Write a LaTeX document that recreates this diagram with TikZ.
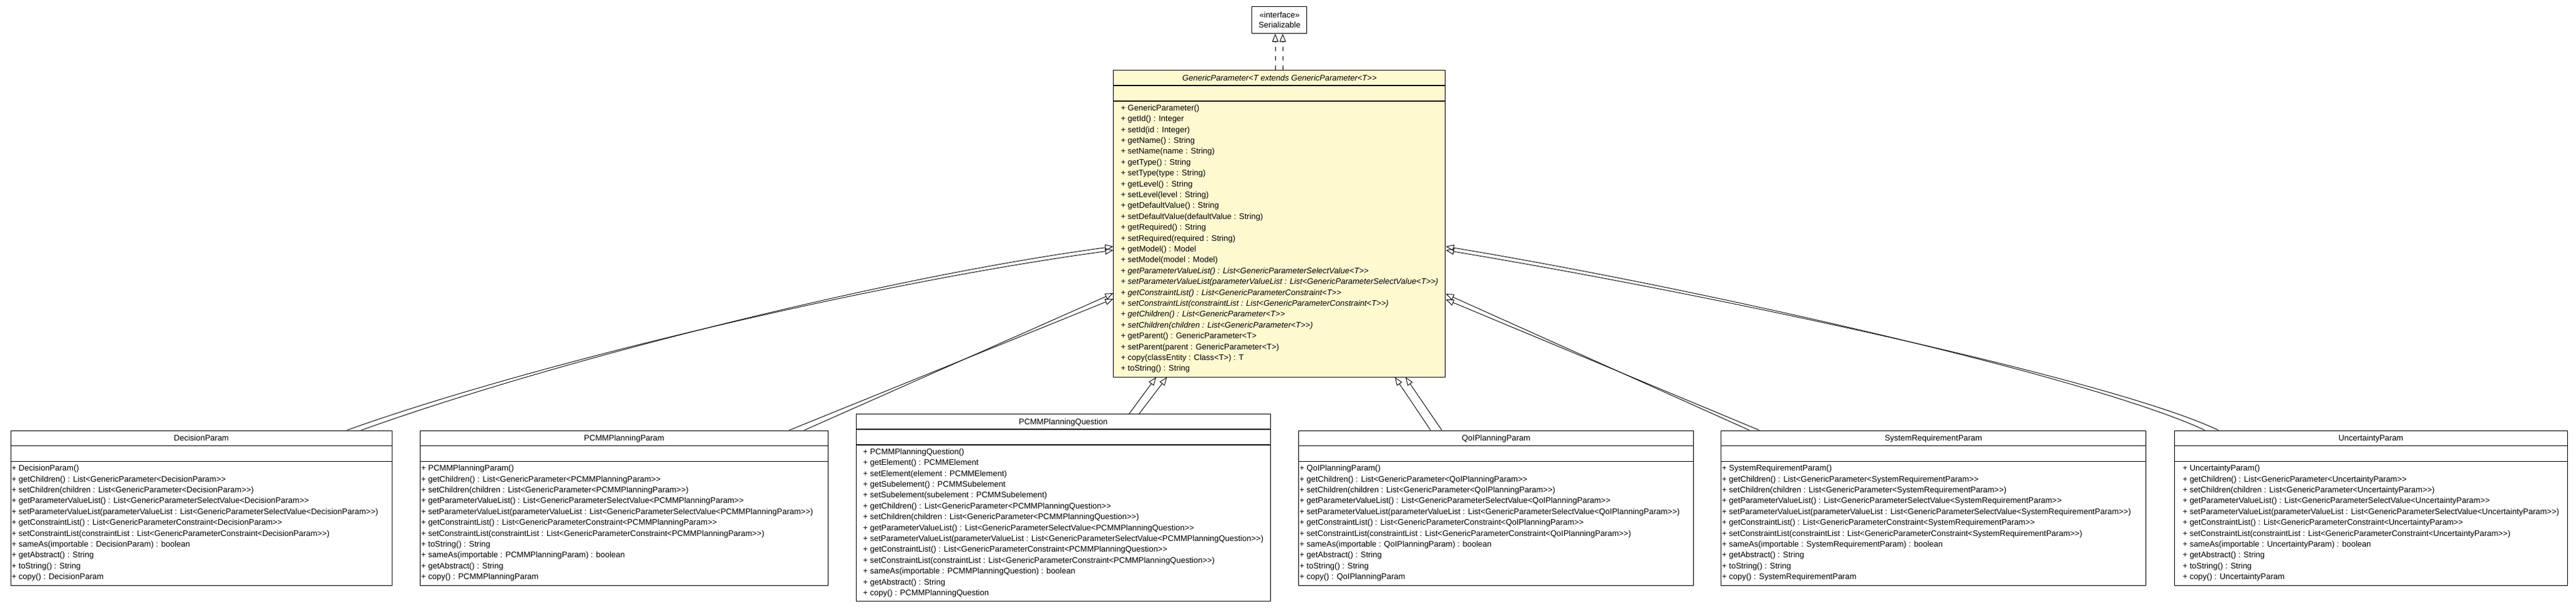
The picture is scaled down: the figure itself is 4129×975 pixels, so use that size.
\documentclass[tikz,border=0pt]{standalone}
\usepackage{fontspec}
\newfontfamily\umlfont{Liberation Sans}
\usetikzlibrary{arrows.meta}
\setlength{\parindent}{0pt}
\definecolor{umlyellow}{RGB}{255,249,208}

\begin{document}
\begin{tikzpicture}[x=1pt, y=-1pt,
	classbox/.style={draw=black, line width=1pt, fill=white, inner sep=0pt, anchor=north west},
	abstractbox/.style={classbox, fill=umlyellow},
	classname/.style={font=\umlfont\fontsize{13pt}{17.4pt}\selectfont, inner sep=0pt, anchor=base},
	classops/.style={font=\umlfont\fontsize{13pt}{17.4pt}\selectfont, align=left, inner sep=0pt},
	compart/.style={line width=1.8pt},
	gen/.style={-{Triangle[open, length=13pt, width=10pt]}, line width=0.9pt},
	realize/.style={gen, dash pattern=on 7pt off 8pt}]
	\path[use as bounding box, fill=white] (0,0) rectangle (4129,975);

	\node[classbox, minimum width=88pt, minimum height=43pt, align=center, font=\umlfont\fontsize{13pt}{16.6pt}\selectfont] (ser) at (2006.4,10) {«interface»\\Serializable};

	% abstract parent
	\node[abstractbox, minimum width=532pt, minimum height=491.6pt] (gp) at (1784.4,112) {};
	\node[classname] (gp-name) at ([yshift=-17pt]gp.north) {\itshape GenericParameter<T extends GenericParameter<T>>};
	\node[classops, anchor=north] (gp-ops) at ([yshift=-50pt]gp.north) {\rule{0pt}{15pt}+ GenericParameter()\\
		+ getId() : Integer\\
		+ setId(id : Integer)\\
		+ getName() : String\\
		+ setName(name : String)\\
		+ getType() : String\\
		+ setType(type : String)\\
		+ getLevel() : String\\
		+ setLevel(level : String)\\
		+ getDefaultValue() : String\\
		+ setDefaultValue(defaultValue : String)\\
		+ getRequired() : String\\
		+ setRequired(required : String)\\
		+ getModel() : Model\\
		+ setModel(model : Model)\\
		+ \textit{getParameterValueList() : List<GenericParameterSelectValue<T>>}\\
		+ \textit{setParameterValueList(parameterValueList : List<GenericParameterSelectValue<T>>)}\\
		+ \textit{getConstraintList() : List<GenericParameterConstraint<T>>}\\
		+ \textit{setConstraintList(constraintList : List<GenericParameterConstraint<T>>)}\\
		+ \textit{getChildren() : List<GenericParameter<T>>}\\
		+ \textit{setChildren(children : List<GenericParameter<T>>)}\\
		+ getParent() : GenericParameter<T>\\
		+ setParent(parent : GenericParameter<T>)\\
		+ copy(classEntity : Class<T>) : T\\
		+ toString() : String\rule[-9pt]{0pt}{9pt}};

	% subclasses
	\node[classbox, minimum width=611.5pt, minimum height=248pt] (decision) at (16.5,689.5) {};
	\node[classname] (decision-name) at ([yshift=-17pt]decision.north) {DecisionParam};
	\node[classops, anchor=north west] (decision-ops) at ([shift={(2pt,-50pt)}]decision.north west) {\rule{0pt}{15pt}+ DecisionParam()\\
		+ getChildren() : List<GenericParameter<DecisionParam>>\\
		+ setChildren(children : List<GenericParameter<DecisionParam>>)\\
		+ getParameterValueList() : List<GenericParameterSelectValue<DecisionParam>>\\
		+ setParameterValueList(parameterValueList : List<GenericParameterSelectValue<DecisionParam>>)\\
		+ getConstraintList() : List<GenericParameterConstraint<DecisionParam>>\\
		+ setConstraintList(constraintList : List<GenericParameterConstraint<DecisionParam>>)\\
		+ sameAs(importable : DecisionParam) : boolean\\
		+ getAbstract() : String\\
		+ toString() : String\\
		+ copy() : DecisionParam};

	\node[classbox, minimum width=654pt, minimum height=248pt] (planparam) at (673,689.5) {};
	\node[classname] (planparam-name) at ([yshift=-17pt]planparam.north) {PCMMPlanningParam};
	\node[classops, anchor=north west] (planparam-ops) at ([shift={(2pt,-50pt)}]planparam.north west) {\rule{0pt}{15pt}+ PCMMPlanningParam()\\
		+ getChildren() : List<GenericParameter<PCMMPlanningParam>>\\
		+ setChildren(children : List<GenericParameter<PCMMPlanningParam>>)\\
		+ getParameterValueList() : List<GenericParameterSelectValue<PCMMPlanningParam>>\\
		+ setParameterValueList(parameterValueList : List<GenericParameterSelectValue<PCMMPlanningParam>>)\\
		+ getConstraintList() : List<GenericParameterConstraint<PCMMPlanningParam>>\\
		+ setConstraintList(constraintList : List<GenericParameterConstraint<PCMMPlanningParam>>)\\
		+ toString() : String\\
		+ sameAs(importable : PCMMPlanningParam) : boolean\\
		+ getAbstract() : String\\
		+ copy() : PCMMPlanningParam};

	\node[classbox, minimum width=664.5pt, minimum height=300.2pt] (planquestion) at (1371.5,663) {};
	\node[classname] (planquestion-name) at ([yshift=-17pt]planquestion.north) {PCMMPlanningQuestion};
	\node[classops, anchor=north] (planquestion-ops) at ([yshift=-50pt]planquestion.north) {\rule{0pt}{15pt}+ PCMMPlanningQuestion()\\
		+ getElement() : PCMMElement\\
		+ setElement(element : PCMMElement)\\
		+ getSubelement() : PCMMSubelement\\
		+ setSubelement(subelement : PCMMSubelement)\\
		+ getChildren() : List<GenericParameter<PCMMPlanningQuestion>>\\
		+ setChildren(children : List<GenericParameter<PCMMPlanningQuestion>>)\\
		+ getParameterValueList() : List<GenericParameterSelectValue<PCMMPlanningQuestion>>\\
		+ setParameterValueList(parameterValueList : List<GenericParameterSelectValue<PCMMPlanningQuestion>>)\\
		+ getConstraintList() : List<GenericParameterConstraint<PCMMPlanningQuestion>>\\
		+ setConstraintList(constraintList : List<GenericParameterConstraint<PCMMPlanningQuestion>>)\\
		+ sameAs(importable : PCMMPlanningQuestion) : boolean\\
		+ getAbstract() : String\\
		+ copy() : PCMMPlanningQuestion};

	\node[classbox, minimum width=633pt, minimum height=248pt] (qoi) at (2081,689.5) {};
	\node[classname] (qoi-name) at ([yshift=-17pt]qoi.north) {QoIPlanningParam};
	\node[classops, anchor=north west] (qoi-ops) at ([shift={(2pt,-50pt)}]qoi.north west) {\rule{0pt}{15pt}+ QoIPlanningParam()\\
		+ getChildren() : List<GenericParameter<QoIPlanningParam>>\\
		+ setChildren(children : List<GenericParameter<QoIPlanningParam>>)\\
		+ getParameterValueList() : List<GenericParameterSelectValue<QoIPlanningParam>>\\
		+ setParameterValueList(parameterValueList : List<GenericParameterSelectValue<QoIPlanningParam>>)\\
		+ getConstraintList() : List<GenericParameterConstraint<QoIPlanningParam>>\\
		+ setConstraintList(constraintList : List<GenericParameterConstraint<QoIPlanningParam>>)\\
		+ sameAs(importable : QoIPlanningParam) : boolean\\
		+ getAbstract() : String\\
		+ toString() : String\\
		+ copy() : QoIPlanningParam};

	\node[classbox, minimum width=681pt, minimum height=248pt] (sysreq) at (2758,689.5) {};
	\node[classname] (sysreq-name) at ([yshift=-17pt]sysreq.north) {SystemRequirementParam};
	\node[classops, anchor=north west] (sysreq-ops) at ([shift={(2pt,-50pt)}]sysreq.north west) {\rule{0pt}{15pt}+ SystemRequirementParam()\\
		+ getChildren() : List<GenericParameter<SystemRequirementParam>>\\
		+ setChildren(children : List<GenericParameter<SystemRequirementParam>>)\\
		+ getParameterValueList() : List<GenericParameterSelectValue<SystemRequirementParam>>\\
		+ setParameterValueList(parameterValueList : List<GenericParameterSelectValue<SystemRequirementParam>>)\\
		+ getConstraintList() : List<GenericParameterConstraint<SystemRequirementParam>>\\
		+ setConstraintList(constraintList : List<GenericParameterConstraint<SystemRequirementParam>>)\\
		+ sameAs(importable : SystemRequirementParam) : boolean\\
		+ getAbstract() : String\\
		+ toString() : String\\
		+ copy() : SystemRequirementParam};

	\node[classbox, minimum width=629.5pt, minimum height=248pt] (uncertainty) at (3485,689.5) {};
	\node[classname] (uncertainty-name) at ([yshift=-17pt]uncertainty.north) {UncertaintyParam};
	\node[classops, anchor=north] (uncertainty-ops) at ([yshift=-50pt]uncertainty.north) {\rule{0pt}{15pt}+ UncertaintyParam()\\
		+ getChildren() : List<GenericParameter<UncertaintyParam>>\\
		+ setChildren(children : List<GenericParameter<UncertaintyParam>>)\\
		+ getParameterValueList() : List<GenericParameterSelectValue<UncertaintyParam>>\\
		+ setParameterValueList(parameterValueList : List<GenericParameterSelectValue<UncertaintyParam>>)\\
		+ getConstraintList() : List<GenericParameterConstraint<UncertaintyParam>>\\
		+ setConstraintList(constraintList : List<GenericParameterConstraint<UncertaintyParam>>)\\
		+ sameAs(importable : UncertaintyParam) : boolean\\
		+ getAbstract() : String\\
		+ toString() : String\\
		+ copy() : UncertaintyParam};

	\foreach \c in {gp,decision,planparam,planquestion,qoi,sysreq,uncertainty}
		\foreach \d in {25,50}
			\draw[compart] ([yshift=-\d pt]\c.north west) -- ([yshift=-\d pt]\c.north east);

	% realization
	\draw[realize] ([xshift=259.6pt]gp.north west) -- ([xshift=37.6pt]ser.south west);
	\draw[realize] ([xshift=271.6pt]gp.north west) -- ([xshift=49.6pt]ser.south west);

	% generalizations
	\draw[gen] ([xshift=539.5pt]decision.north west) .. controls (846,585) and (1400,453) .. ([yshift=-289pt]gp.north west);
	\draw[gen] ([xshift=562.5pt]decision.north west) .. controls (869,585) and (1400,447) .. ([yshift=-283pt]gp.north west);
	\draw[gen] ([xshift=592pt]planparam.north west) -- ([yshift=-367pt]gp.north west);
	\draw[gen] ([xshift=616pt]planparam.north west) -- ([yshift=-358pt]gp.north west);
	\draw[gen] ([xshift=438.5pt]planquestion.north west) -- ([xshift=68.6pt]gp.south west);
	\draw[gen] ([xshift=454.5pt]planquestion.north west) -- ([xshift=86.1pt]gp.south west);
	\draw[gen] ([xshift=212pt]qoi.north west) -- ([xshift=451.6pt]gp.south west);
	\draw[gen] ([xshift=230pt]qoi.north west) -- ([xshift=468.6pt]gp.south west);
	\draw[gen] ([xshift=46pt]sysreq.north west) -- ([yshift=-359pt]gp.north east);
	\draw[gen] ([xshift=62pt]sysreq.north west) -- ([yshift=-368pt]gp.north east);
	\draw[gen] ([xshift=49pt]uncertainty.north west) .. controls (3364,609) and (2750,467) .. ([yshift=-283pt]gp.north east);
	\draw[gen] ([xshift=71pt]uncertainty.north west) .. controls (3386,609) and (2750,473) .. ([yshift=-289pt]gp.north east);
\end{tikzpicture}
\end{document}
